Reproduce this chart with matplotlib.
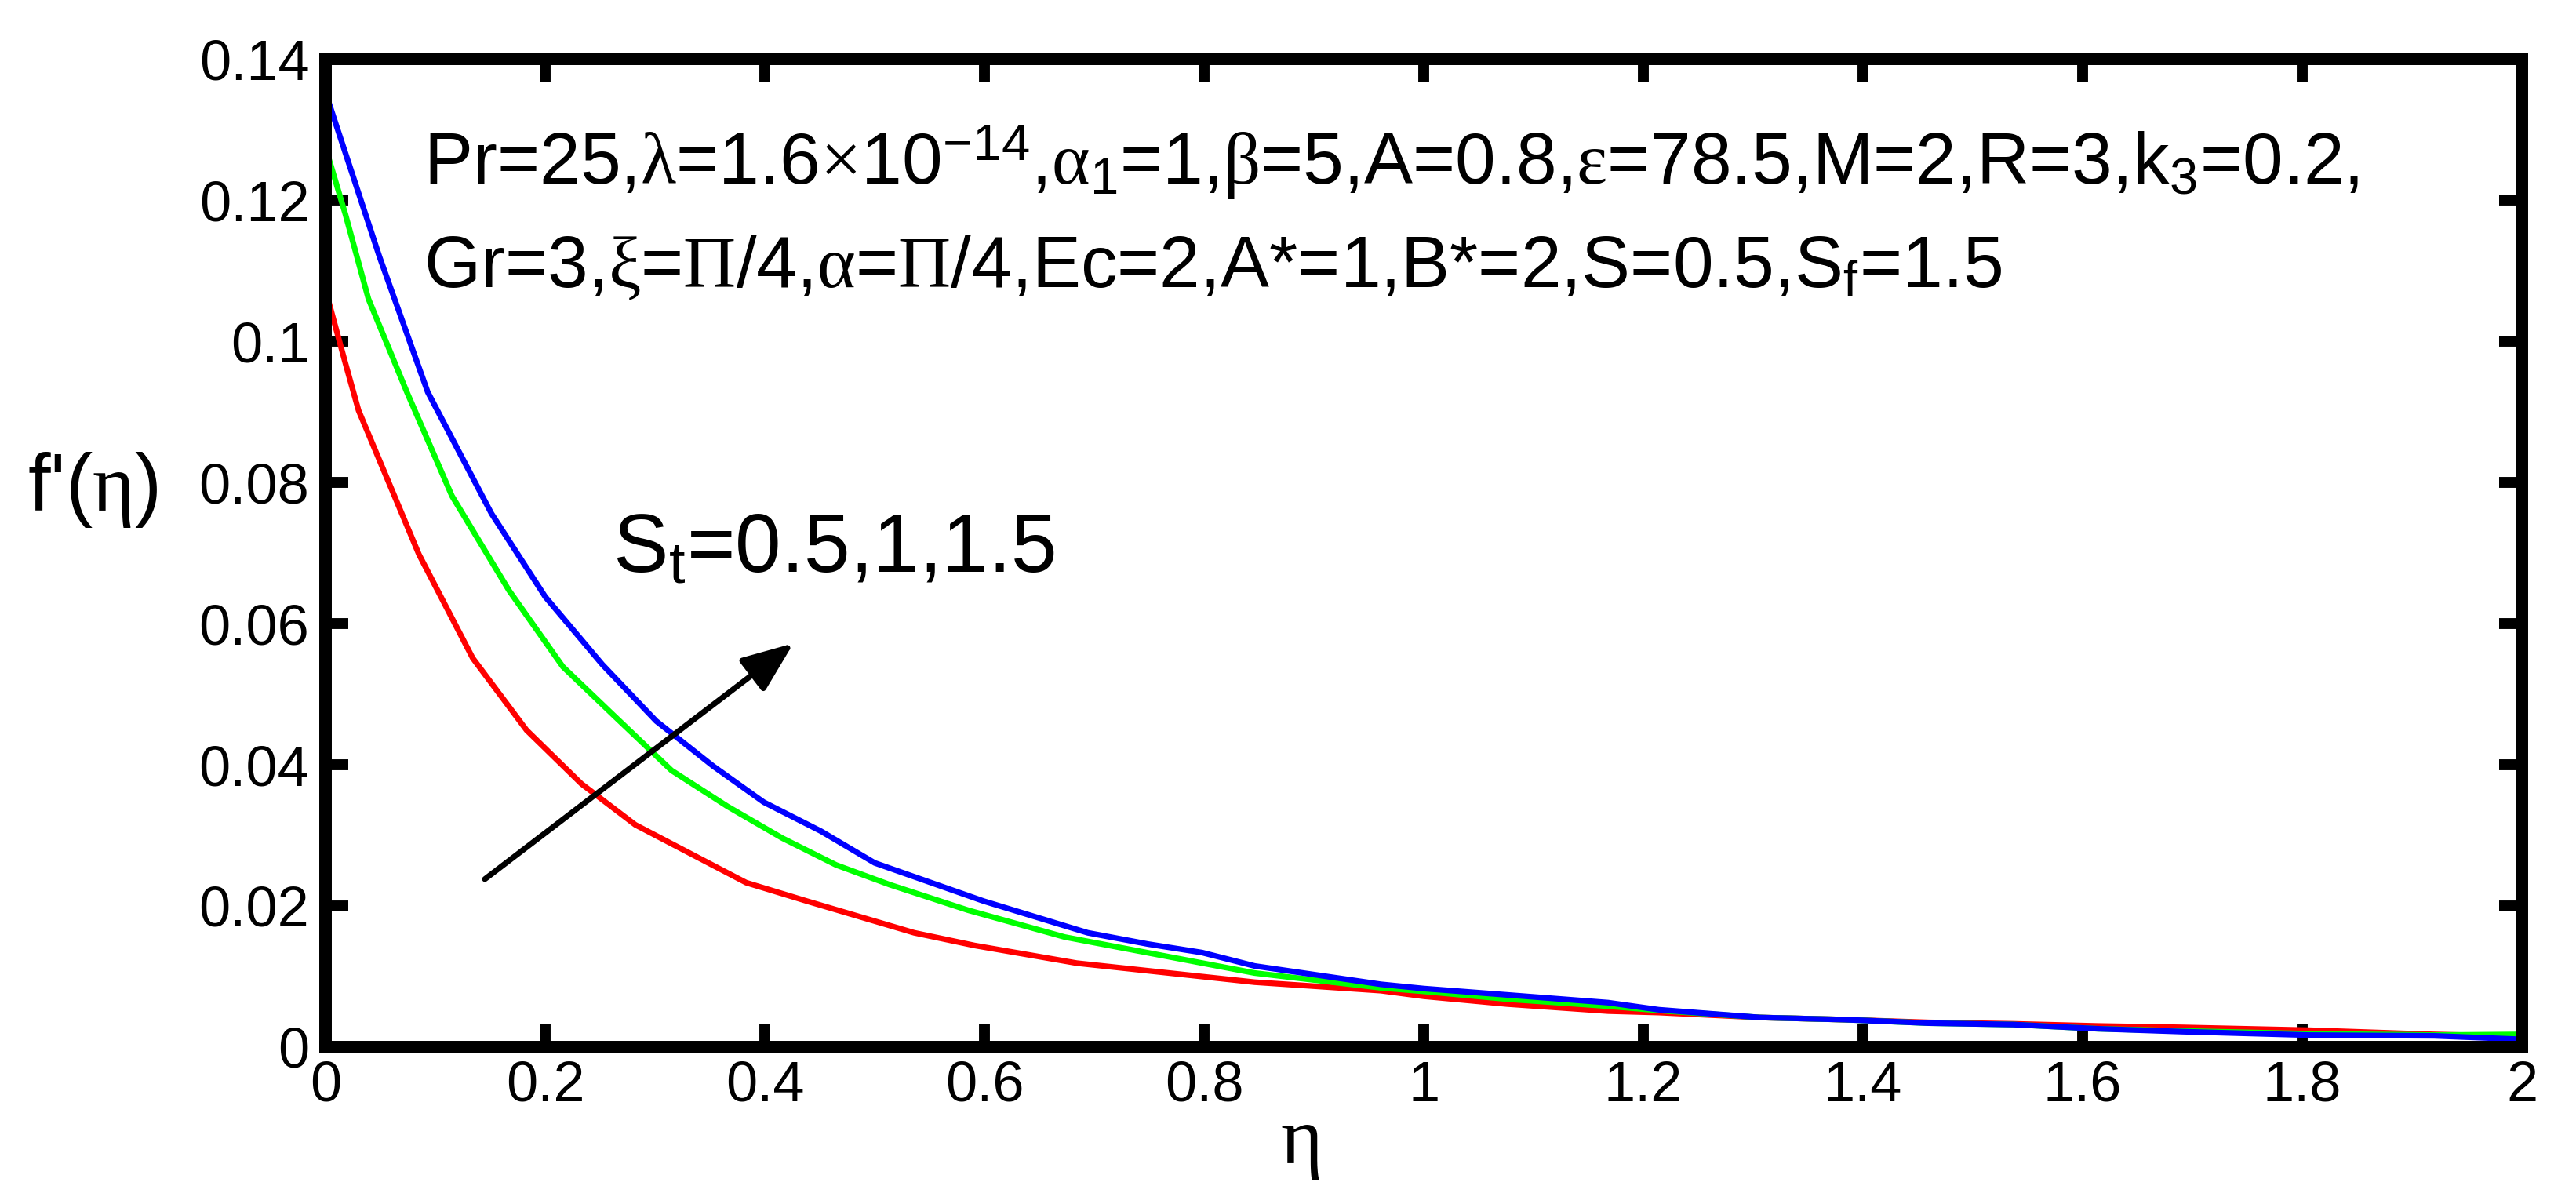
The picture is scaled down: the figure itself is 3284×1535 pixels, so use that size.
import matplotlib
matplotlib.use("Agg")
from matplotlib import pyplot as plt

plt.rcParams['font.family'] = ['Liberation Sans', 'DejaVu Sans']
plt.rcParams['mathtext.fontset'] = 'custom'
plt.rcParams['mathtext.rm'] = 'Liberation Serif'
plt.rcParams['mathtext.it'] = 'Liberation Serif'
plt.rcParams['mathtext.sf'] = 'Liberation Sans'

# curves, S_t = 0.5 (red), 1 (green), 1.5 (blue)
eta_red = [0, 0.018, 0.030, 0.085, 0.134, 0.183, 0.233, 0.282, 0.383, 0.438, 0.536,
           0.591, 0.684, 0.846, 0.961, 1.0, 1.076, 1.168, 1.214, 1.306, 1.383, 1.46,
           1.537, 1.614, 1.69, 1.806, 1.92, 2.0]
f_red = [0.1072, 0.0969, 0.0902, 0.0698, 0.0551, 0.0449, 0.0373, 0.0315, 0.0233, 0.0207,
         0.0162, 0.0144, 0.0119, 0.0092, 0.0080, 0.0072, 0.0061, 0.0051, 0.0049, 0.0042,
         0.0039, 0.0035, 0.0033, 0.0030, 0.0028, 0.0024, 0.0018, 0.0015]

eta_green = [0, 0.018, 0.039, 0.074, 0.115, 0.167, 0.216, 0.263, 0.315, 0.366, 0.416,
             0.465, 0.514, 0.585, 0.673, 0.846, 0.961, 1.0, 1.076, 1.168, 1.214, 1.306,
             1.383, 1.46, 1.537, 1.614, 1.69, 1.806, 1.92, 2.0]
f_green = [0.1274, 0.1180, 0.1060, 0.0928, 0.0781, 0.0647, 0.0539, 0.0469, 0.0392, 0.0341,
           0.0296, 0.0258, 0.0230, 0.0194, 0.0156, 0.0105, 0.0084, 0.0079, 0.0068, 0.0058,
           0.0052, 0.0042, 0.0039, 0.0034, 0.0032, 0.0026, 0.0023, 0.0019, 0.0017, 0.0018]

eta_blue = [0, 0.049, 0.093, 0.151, 0.200, 0.252, 0.301, 0.353, 0.399, 0.451, 0.500,
            0.599, 0.694, 0.749, 0.798, 0.846, 0.961, 1.0, 1.076, 1.168, 1.214, 1.306,
            1.383, 1.46, 1.537, 1.614, 1.69, 1.806, 1.92, 2.0]
f_blue = [0.1352, 0.1120, 0.0928, 0.0756, 0.0638, 0.0542, 0.0462, 0.0398, 0.0347, 0.0306,
          0.0261, 0.0207, 0.0162, 0.0146, 0.0134, 0.0115, 0.0089, 0.0083, 0.0074, 0.0063,
          0.0053, 0.0042, 0.0039, 0.0034, 0.0032, 0.0026, 0.0022, 0.0017, 0.0016, 0.0011]

x_ticks = [0, 0.2, 0.4, 0.6, 0.8, 1.0, 1.2, 1.4, 1.6, 1.8, 2.0]
x_tick_labels = ['0', '0.2', '0.4', '0.6', '0.8', '1', '1.2', '1.4', '1.6', '1.8', '2']
y_ticks = [0, 0.02, 0.04, 0.06, 0.08, 0.10, 0.12, 0.14]
y_tick_labels = ['0', '0.02', '0.04', '0.06', '0.08', '0.1', '0.12', '0.14']

param_line1 = (r'Pr=25,$\lambda$=1.6$\times$10$^{\mathsf{-14}}$,$\alpha_{\mathsf{1}}$=1,'
               r'$\beta$=5,A=0.8,$\varepsilon$=78.5,M=2,R=3,k$_{\mathsf{3}}$=0.2,')
param_line2 = (r'Gr=3,$\xi$=$\Pi$/4,$\alpha$=$\Pi$/4,Ec=2,A*=1,B*=2,S=0.5,'
               r'S$_{\mathsf{f}}$=1.5')
st_label = r'S$_{\mathsf{t}}$=0.5,1,1.5'

fig = plt.figure(figsize=(32.84, 15.35), dpi=100)
ax = fig.add_axes([0.1264, 0.1303, 0.8526, 0.8208])

lw = 5.2
ax.plot(eta_red, f_red, color=(1, 0, 0), lw=lw)
ax.plot(eta_green, f_green, color=(0, 1, 0), lw=lw)
ax.plot(eta_blue, f_blue, color=(0, 0, 1), lw=lw)

ax.set_xlim(0, 2)
ax.set_ylim(0, 0.14)
ax.set_xticks(x_ticks)
ax.set_xticklabels(x_tick_labels)
ax.set_yticks(y_ticks)
ax.set_yticklabels(y_tick_labels)
ax.tick_params(direction='in', top=True, right=True, length=21, width=10,
               labelsize=52)
ax.tick_params(axis='x', pad=12)
ax.tick_params(axis='y', pad=15)
for side in ax.spines:
    ax.spines[side].set_linewidth(11.5)

# arrow showing increasing S_t
ax.annotate('', xy=(0.426, 0.0572), xytext=(0.145, 0.0238),
            arrowprops=dict(arrowstyle='-|>,head_length=4.0,head_width=1.6',
                            mutation_scale=10, lw=lw, color='k',
                            shrinkA=0, shrinkB=0))

fig.text(540 / 3284, 1 - 235 / 1535, param_line1, fontsize=67, va='baseline', ha='left')
fig.text(540 / 3284, 1 - 366 / 1535, param_line2, fontsize=67, va='baseline', ha='left')
fig.text(781 / 3284, 1 - 730 / 1535, st_label, fontsize=76, va='baseline', ha='left')

# axis labels placed like the original (horizontal y label)
fig.text(35 / 3284, 1 - 651 / 1535, r"f'($\eta$)", fontsize=74, va='baseline', ha='left')
fig.text(1657 / 3284, 1 - 1483 / 1535, r'$\eta$', fontsize=74, va='baseline', ha='center')

fig.savefig('out.png', dpi=100)
